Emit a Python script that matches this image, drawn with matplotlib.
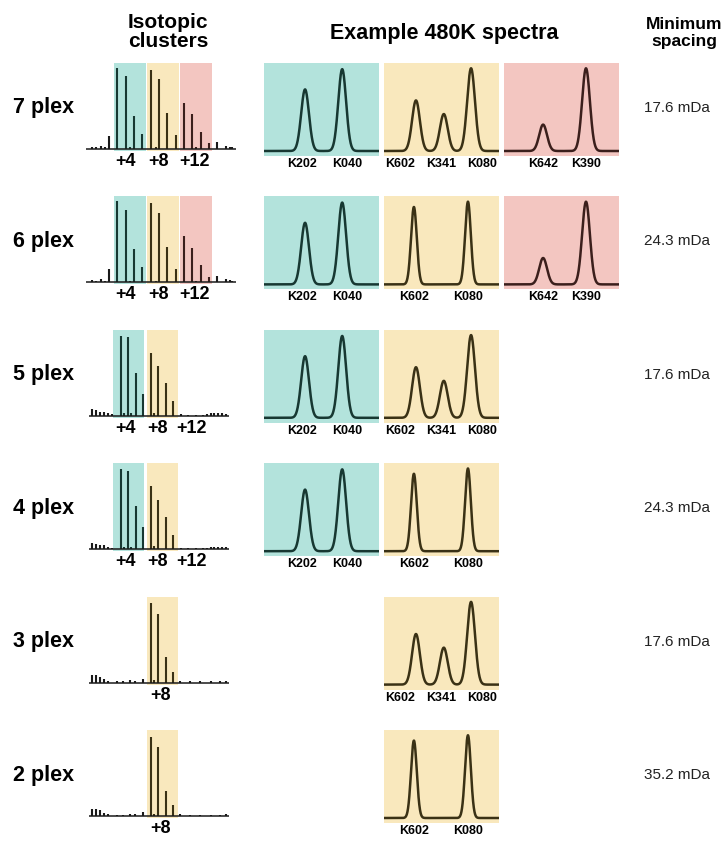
import numpy as np
import matplotlib
matplotlib.use("Agg")
import matplotlib.pyplot as plt

plt.rcParams["font.family"] = ["Liberation Sans", "DejaVu Sans"]

# ---- data ----
row_names = ["7 plex", "6 plex", "5 plex", "4 plex", "3 plex", "2 plex"]
min_spacing = ["17.6 mDa", "24.3 mDa", "17.6 mDa", "24.3 mDa", "17.6 mDa", "35.2 mDa"]

# isotopic clusters: mass offset (Da) and relative intensity
iso3_pos = [1.0, 1.5, 2.0, 2.5, 3.0, 4, 5, 5.5, 6, 7, 8, 8.6, 9, 10, 11, 12, 13, 13.5, 14, 15, 16, 17, 17.5, 17.8]
iso3_int = [3, 2, 4, 2, 16, 100, 90, 2, 41, 19, 98, 2, 86, 44, 17, 57, 43, 2, 21, 7, 8, 4, 2.5, 2]
iso2_pos = [0.13, 0.67, 1.24, 1.77, 2.35, 2.88, 4, 4.4, 5, 5.4, 6, 7, 8, 8.5, 9, 10, 11,
            12, 13, 14, 15, 15.5, 16, 16.5, 17, 17.5, 18]
iso2_int = [8, 7, 5, 5, 3, 2, 99, 3, 97, 3, 53, 27, 78, 4, 61, 40, 18,
            2, 1.5, 1.5, 1.5, 2, 3, 3, 3, 3, 2.5]
iso1_pos = [0.13, 0.67, 1.24, 1.77, 2.3, 3.5, 4.35, 5.2, 5.9, 7.0, 8, 8.5, 9, 10, 11,
            11.9, 13.2, 14.6, 16.1, 17.2, 18]
iso1_int = [9, 9, 7, 4, 2, 1.5, 1.5, 3, 2, 5, 98, 3, 85, 31, 13, 2, 1.5, 1.5, 1.5, 1.5, 2]

# 480K spectra: label, relative position in window, relative height
teal_names, teal_pos, teal_h = ["K202", "K040"], [0.357, 0.68], [0.70, 0.93]
yel3_names, yel3_pos, yel3_h = ["K602", "K341", "K080"], [0.278, 0.52, 0.757], [0.575, 0.42, 0.94]
yel2_names, yel2_pos, yel2_h = ["K602", "K080"], [0.26, 0.73], [0.88, 0.94]
pink_names, pink_pos, pink_h = ["K642", "K390"], [0.34, 0.713], [0.30, 0.94]
teal_lab = [0.33, 0.72]
yel3_lab = [0.14, 0.50, 0.85]

# ---- style ----
TEAL, YEL, PINK = "#b3e3dc", "#f9e8bd", "#f3c6c1"
TEAL_D, YEL_D, PINK_D = "#173832", "#3a3115", "#3b1f1c"

W, H = 723, 846
fig = plt.figure(figsize=(W / 100, H / 100), dpi=100)


def add_ax(x, y, w, h):
    ax = fig.add_axes([x / W, 1 - (y + h) / H, w / W, h / H])
    ax.set_axis_off()
    return ax


def ftext(x, y, s, **kw):
    fig.text(x / W, 1 - y / H, s, **kw)


# headers
ftext(168, 32, "Isotopic\nclusters", ha="center", va="center", fontsize=15,
      fontweight="bold", linespacing=1.0)
ftext(444, 33, "Example 480K spectra", ha="center", va="center", fontsize=15.5,
      fontweight="bold")
ftext(684, 33, "Minimum\nspacing", ha="center", va="center", fontsize=12.5,
      fontweight="bold", linespacing=1.1)

row_tops = [63 + 133.4 * i for i in range(6)]

cluster_cfg = [
    ("iso3", [(3.55, 7.45, TEAL), (7.55, 11.45, YEL), (11.55, 15.4, PINK)], ["+4", "+8", "+12"], [5.0, 8.9, 13.3]),
    ("iso3", [(3.55, 7.45, TEAL), (7.55, 11.45, YEL), (11.55, 15.4, PINK)], ["+4", "+8", "+12"], [5.0, 8.9, 13.3]),
    ("iso2", [(2.97, 7.1, TEAL), (7.5, 11.65, YEL)], ["+4", "+8", "+12"], [4.6, 8.85, 13.4]),
    ("iso2", [(2.97, 7.1, TEAL), (7.5, 11.65, YEL)], ["+4", "+8", "+12"], [4.6, 8.85, 13.4]),
    ("iso1", [(7.47, 11.68, YEL)], ["+8"], [9.25]),
    ("iso1", [(7.47, 11.68, YEL)], ["+8"], [9.25]),
]
iso_data = {"iso3": (iso3_pos, iso3_int), "iso2": (iso2_pos, iso2_int), "iso1": (iso1_pos, iso1_int)}

teal_box = (teal_names, teal_pos, teal_h, teal_lab, TEAL, TEAL_D, 0.034)
yel3_box = (yel3_names, yel3_pos, yel3_h, yel3_lab, YEL, YEL_D, 0.034)
yel2_box = (yel2_names, yel2_pos, yel2_h, yel2_pos, YEL, YEL_D, 0.025)
pink_box = (pink_names, pink_pos, pink_h, pink_pos, PINK, PINK_D, 0.034)
spectra_cfg = [
    [(264, teal_box), (384, yel3_box), (504, pink_box)],
    [(264, teal_box), (384, yel2_box), (504, pink_box)],
    [(264, teal_box), (384, yel3_box)],
    [(264, teal_box), (384, yel2_box)],
    [(384, yel3_box)],
    [(384, yel2_box)],
]
dark_of = {TEAL: TEAL_D, YEL: YEL_D, PINK: PINK_D}

for i, top in enumerate(row_tops):
    # row label and spacing
    ftext(13, top + 45, row_names[i], ha="left", va="center", fontsize=15.5, fontweight="bold")
    ftext(677, top + 45, min_spacing[i], ha="center", va="center", fontsize=11, color="#222222")

    # isotopic cluster
    key, shades, labs, lab_x = cluster_cfg[i]
    pos, inten = iso_data[key]
    if key == "iso3":
        x0, scale, left, right = 84, 8.33, 86, 236
    else:
        x0, scale, left, right = 90.7, 7.5, 89, 229
    ax = add_ax(left, top, right - left, 88)
    ax.set_xlim((left - x0) / scale, (right - x0) / scale)
    ax.set_ylim(-2.5, 106.2)
    for a, b, c in shades:
        ax.axvspan(a, b, color=c, lw=0, zorder=0)
    cols = []
    for p in pos:
        c = "#1a1a1a"
        for a, b, sc in shades:
            if a <= p <= b:
                c = dark_of[sc]
        cols.append(c)
    ax.vlines(pos, 0, inten, colors=cols, lw=1.5, zorder=2)
    ax.axhline(0, color="#1a1a1a", lw=1.1, zorder=3)
    for s, lx in zip(labs, lab_x):
        ax.text(lx, -5.0, s, ha="center", va="top", fontsize=13, fontweight="bold")

    # example spectra
    for bx, (names, ppos, ph, lpos, bg, dk, sig) in spectra_cfg[i]:
        sax = add_ax(bx, top, 115, 93)
        sax.set_xlim(0, 1)
        sax.set_ylim(-5 / 88, 1.0)
        sax.axvspan(0, 1, color=bg, lw=0, zorder=0)
        xs = np.linspace(0, 1, 800)
        ys = np.zeros_like(xs)
        for p, h in zip(ppos, ph):
            ys += h * np.exp(-((xs - p) ** 2) / (2 * sig ** 2))
        sax.plot(xs, ys, color=dk, lw=1.8, solid_capstyle="butt", zorder=2)
        for n, lp in zip(names, lpos):
            ftext(bx + 115 * lp, top + 101, n, ha="center", va="center", fontsize=9, fontweight="bold")

fig.savefig("out.png", dpi=100, facecolor="white")
